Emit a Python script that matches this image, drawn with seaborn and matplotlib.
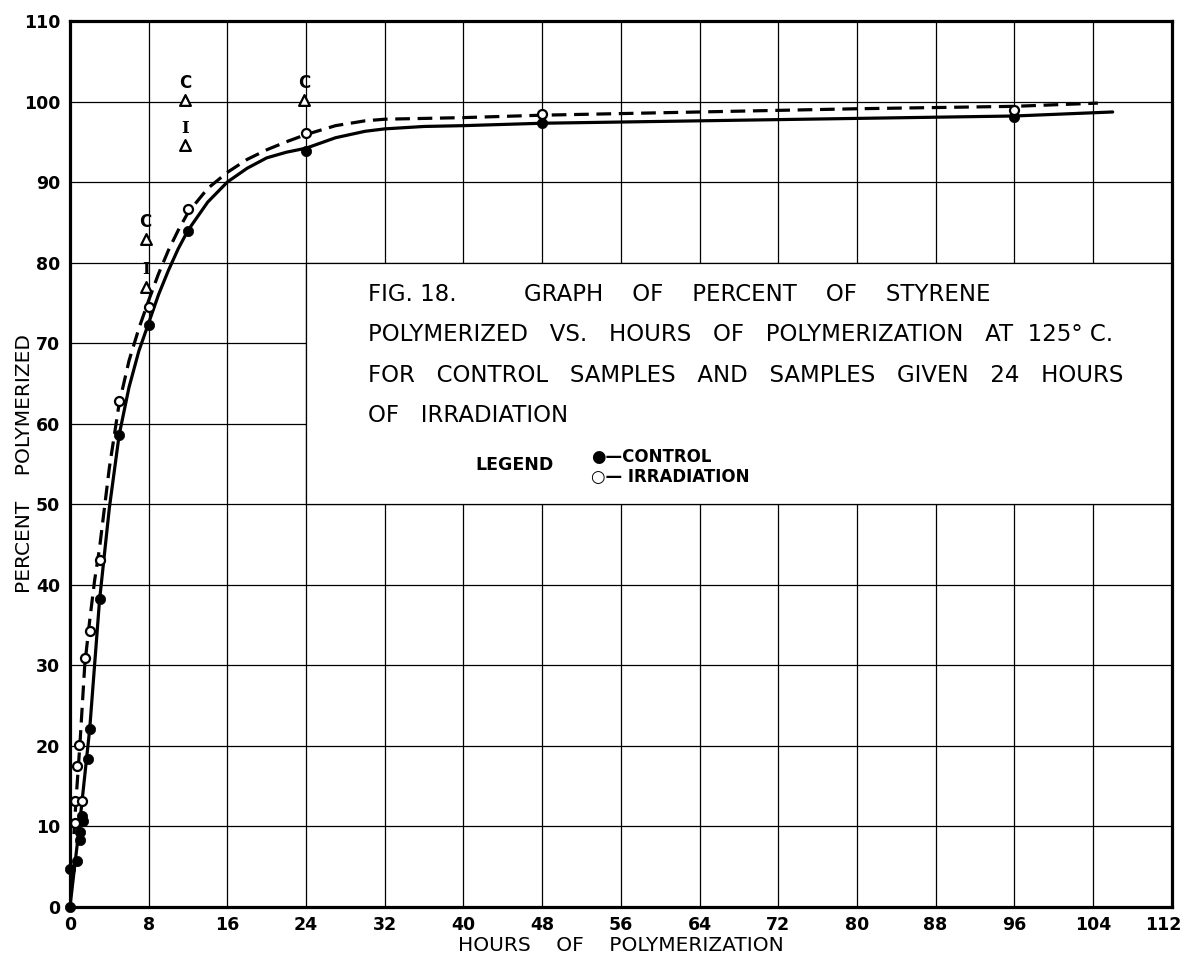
import matplotlib
matplotlib.use("Agg")
import matplotlib.pyplot as plt
import seaborn as sns
import pandas as pd
from matplotlib.patches import Rectangle
from matplotlib.transforms import ScaledTranslation

# ---------------- data ----------------
control_hours = [0, 0, 0.75, 1.0, 1.0, 1.2, 1.35, 1.85, 2.0, 3.0, 5.0, 8.0, 12.0, 24.0, 48.0, 96.0]
control_pct = [0, 4.7, 5.6, 8.3, 9.2, 11.2, 10.6, 18.3, 22.0, 38.2, 58.6, 72.2, 83.9, 93.8, 97.3, 98.1]

irr_hours = [0.5, 0.5, 1.2, 0.75, 0.95, 1.5, 2.0, 3.0, 5.0, 8.0, 12.0, 24.0, 48.0, 96.0]
irr_pct = [10.4, 13.1, 13.1, 17.5, 20.1, 30.9, 34.2, 43.1, 62.8, 74.5, 86.6, 96.1, 98.4, 99.0]

# hand-drawn fitted curves
ctrl_curve_h = [0, 1, 2, 2.5, 3, 4, 5, 6, 7, 8, 9, 10, 11, 12, 14, 16, 18, 20, 22, 24,
                27, 30, 32, 36, 40, 48, 64, 80, 96, 106]
ctrl_curve_y = [0, 10.5, 22, 30, 38, 49.5, 58.6, 64.5, 69, 72.5, 76, 79, 81.7, 84, 87.5, 90,
                91.7, 93, 93.7, 94.2, 95.5, 96.3, 96.6, 96.9, 97.0, 97.3, 97.6, 97.9, 98.2, 98.7]

irr_curve_h = [0.4, 0.6, 1, 1.5, 2, 2.5, 3, 4, 5, 6, 7, 8, 9, 10, 11, 12, 14, 16, 18, 20, 22,
               24, 27, 30, 32, 36, 40, 48, 64, 80, 96, 104.5]
irr_curve_y = [9, 13, 20, 30, 35.5, 40.5, 44.5, 54.5, 62.5, 67.8, 71.8, 75.3, 78.6, 81.5, 84,
               86.2, 89.2, 91.2, 92.8, 94, 95, 95.9, 97, 97.6, 97.8, 97.9, 98.0, 98.3, 98.7,
               99.1, 99.4, 99.8]

# reference triangles (C = control, I = irradiation)
tri_hours = [7.7, 7.7, 11.7, 11.7, 23.8]
tri_pct = [82.9, 77.0, 100.2, 94.6, 100.2]
tri_labels = ["C", "I", "C", "I", "C"]

x_ticks = list(range(0, 113, 8))
y_ticks = list(range(0, 111, 10))

caption_fig = "FIG. 18."
caption_head = "GRAPH    OF    PERCENT    OF    STYRENE"
caption_lines = [
    "POLYMERIZED   VS.   HOURS   OF   POLYMERIZATION   AT  125° C.",
    "FOR   CONTROL   SAMPLES   AND   SAMPLES   GIVEN   24   HOURS",
    "OF   IRRADIATION",
]

# ---------------- figure ----------------
sns.set_theme(style="white")
plt.rcParams["font.family"] = ["DejaVu Sans"]
plt.rcParams["text.color"] = "black"
plt.rcParams["axes.labelcolor"] = "black"
plt.rcParams["xtick.color"] = "black"
plt.rcParams["ytick.color"] = "black"

fig = plt.figure(figsize=(11.85, 9.63), dpi=100)
ax = fig.add_axes([0.05907, 0.05867, 0.92970, 0.91952])

ax.set_xlim(0, 112)
ax.set_ylim(0, 110)
ax.set_xticks(x_ticks)
ax.set_yticks(y_ticks)
ax.grid(True, color="black", linewidth=0.9)
ax.set_axisbelow(True)

# blank panel for the caption
ax.add_patch(Rectangle((24, 50), 88, 30, facecolor="white", edgecolor="black",
                       linewidth=0.9, zorder=1))

ctrl_curve = pd.DataFrame({"h": ctrl_curve_h, "y": ctrl_curve_y})
irr_curve = pd.DataFrame({"h": irr_curve_h, "y": irr_curve_y})
sns.lineplot(data=ctrl_curve, x="h", y="y", ax=ax, color="black", linewidth=2.3,
             sort=False, zorder=3)
sns.lineplot(data=irr_curve, x="h", y="y", ax=ax, color="black", linewidth=2.3,
             sort=False, zorder=3, linestyle=(0, (4.6, 2.4)))

ctrl = pd.DataFrame({"h": control_hours, "y": control_pct})
irr = pd.DataFrame({"h": irr_hours, "y": irr_pct})
sns.scatterplot(data=ctrl, x="h", y="y", ax=ax, color="black", s=55, marker="o",
                edgecolor="black", linewidth=0.5, zorder=5, clip_on=False)
sns.scatterplot(data=irr, x="h", y="y", ax=ax, color="white", s=42, marker="o",
                edgecolor="black", linewidth=1.6, zorder=6, clip_on=False)

tri = pd.DataFrame({"h": tri_hours, "y": tri_pct})
sns.scatterplot(data=tri, x="h", y="y", ax=ax, color="white", s=60, marker="^",
                edgecolor="black", linewidth=1.6, zorder=6)
for h, y, lab in zip(tri_hours, tri_pct, tri_labels):
    ax.text(h, y + 2.1, lab, ha="center", va="center", fontsize=12, fontweight="bold",
            color="black",
            family="DejaVu Serif" if lab == "I" else "DejaVu Sans", zorder=7)

# caption text
cap_kw = dict(fontsize=16.5, color="black", ha="left", va="center", zorder=7)
ax.text(30.3, 76.0, caption_fig, **cap_kw)
ax.text(46.2, 76.0, caption_head, **cap_kw)
for i, line in enumerate(caption_lines):
    ax.text(30.3, 71.0 - 5.0 * i, line, **cap_kw)
leg_kw = dict(fontweight="bold", ha="left", va="center", color="black", zorder=7)
ax.text(41.2, 54.9, "LEGEND", fontsize=12.5, **leg_kw)
ax.text(53.0, 55.9, "●—CONTROL", fontsize=12, **leg_kw)
ax.text(53.0, 53.4, "○— IRRADIATION", fontsize=12, **leg_kw)

# axes styling
for sp in ax.spines.values():
    sp.set_visible(True)
    sp.set_color("black")
    sp.set_linewidth(2.3)
    sp.set_zorder(8)
ax.tick_params(length=0, pad=7, labelsize=12.5, colors="black")
for lab in ax.get_xticklabels() + ax.get_yticklabels():
    lab.set_fontweight("bold")
last = ax.get_xticklabels()[-1]
last.set_transform(last.get_transform() + ScaledTranslation(-6 / 72, 0, fig.dpi_scale_trans))

ax.set_xlabel("HOURS    OF    POLYMERIZATION", fontsize=14.5, color="black")
ax.set_ylabel("PERCENT    POLYMERIZED", fontsize=14.5, color="black")
ax.xaxis.set_label_coords(0.5, -0.0435)
ax.xaxis.label.set_va("center")
ax.yaxis.set_label_coords(-0.041, 0.5)
ax.yaxis.label.set_va("center")

fig.savefig("out.png", dpi=100, facecolor="white")
